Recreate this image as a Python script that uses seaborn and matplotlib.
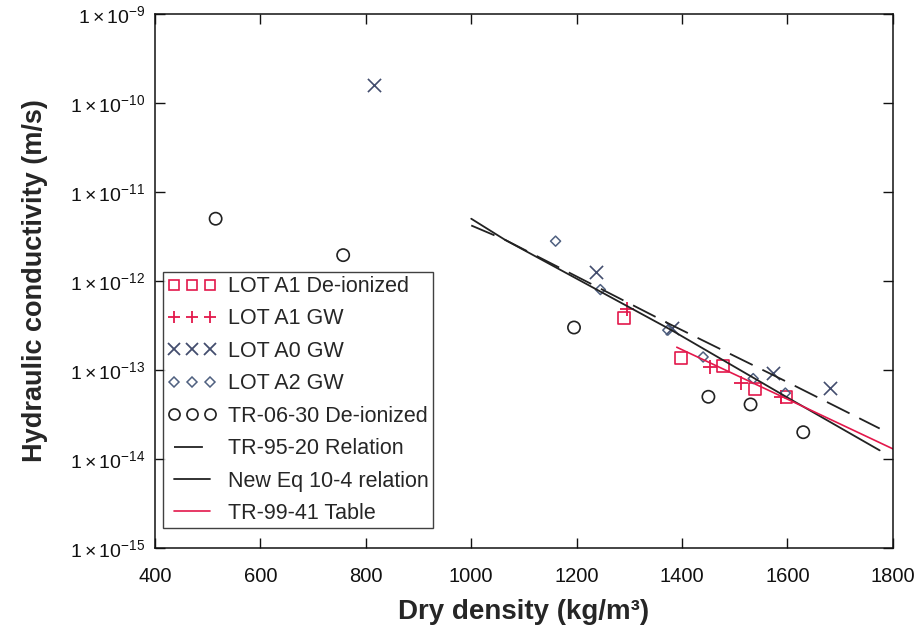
import matplotlib
matplotlib.use("Agg")
import matplotlib.pyplot as plt
from matplotlib.lines import Line2D
import seaborn as sns
import pandas as pd

# ---- data ----
a1_deion_x = [1290, 1398, 1477, 1538, 1598]
a1_deion_y = [3.8e-13, 1.35e-13, 1.1e-13, 6.1e-14, 5.0e-14]
a1_gw_x = [1296, 1453, 1512, 1588]
a1_gw_y = [4.9e-13, 1.08e-13, 7.1e-14, 5.0e-14]
a0_gw_x = [815, 1236, 1380, 1573, 1680]
a0_gw_y = [1.6e-10, 1.25e-12, 3.0e-13, 9.3e-14, 6.2e-14]
a2_gw_x = [1160, 1245, 1373, 1440, 1535, 1596]
a2_gw_y = [2.8e-12, 8.0e-13, 2.8e-13, 1.4e-13, 8.0e-14, 5.5e-14]
tr0630_x = [515, 757, 1195, 1450, 1530, 1630]
tr0630_y = [5.0e-12, 1.95e-12, 3.0e-13, 5.0e-14, 4.1e-14, 2.0e-14]

tr9520_x = [1000, 1064, 1380, 1600, 1775]
tr9520_y = [4.2e-12, 2.9e-12, 3.2e-13, 7.3e-14, 2.2e-14]
neweq_x = [1000, 1064, 1380, 1600, 1775]
neweq_y = [5.0e-12, 2.9e-12, 2.8e-13, 4.9e-14, 1.25e-14]
tr9941_x = [1390, 1600, 1800]
tr9941_y = [1.8e-13, 4.7e-14, 1.3e-14]

xticks = [400, 600, 800, 1000, 1200, 1400, 1600, 1800]
yticks = [1e-15, 1e-14, 1e-13, 1e-12, 1e-11, 1e-10, 1e-9]
yticklabels = [r"$1\times10^{-15}$", r"$1\times10^{-14}$", r"$1\times10^{-13}$",
               r"$1\times10^{-12}$", r"$1\times10^{-11}$", r"$1\times10^{-10}$",
               r"$1\times10^{-9}$"]

# ---- style ----
sns.set_theme(style="ticks")
plt.rcParams["font.family"] = ["Liberation Sans", "DejaVu Sans"]
plt.rcParams["mathtext.fontset"] = "custom"
plt.rcParams["mathtext.rm"] = "Liberation Sans"
plt.rcParams["mathtext.it"] = "Liberation Sans:italic"
plt.rcParams["mathtext.bf"] = "Liberation Sans:bold"

RED = "#e3184b"
BLUEGRAY = "#434d6e"
DIAM = "#4f6080"
BLACK = "#222222"

fig = plt.figure(figsize=(9.2, 6.31), dpi=100)
ax = fig.add_axes([0.1685, 0.1315, 0.802, 0.8465])

def df(x, y):
    return pd.DataFrame({"x": x, "y": y})

sns.scatterplot(data=df(a1_deion_x, a1_deion_y), x="x", y="y", ax=ax, marker="s", s=72,
                facecolor="none", edgecolor=RED, linewidth=1.2, legend=False)
sns.scatterplot(data=df(a1_gw_x, a1_gw_y), x="x", y="y", ax=ax, marker="+", s=95,
                color=RED, linewidth=1.3, legend=False)
sns.scatterplot(data=df(a0_gw_x, a0_gw_y), x="x", y="y", ax=ax, marker="x", s=90,
                color=BLUEGRAY, linewidth=1.2, legend=False)
sns.scatterplot(data=df(a2_gw_x, a2_gw_y), x="x", y="y", ax=ax, marker="D", s=26,
                facecolor="none", edgecolor=DIAM, linewidth=1.1, legend=False)
sns.scatterplot(data=df(tr0630_x, tr0630_y), x="x", y="y", ax=ax, marker="o", s=78,
                facecolor="none", edgecolor=BLACK, linewidth=1.2, legend=False)

DASH = (0, (14, 6))
sns.lineplot(data=df(tr9520_x, tr9520_y), x="x", y="y", ax=ax, color=BLACK, lw=1.3,
             linestyle=DASH, sort=False, estimator=None, legend=False)
sns.lineplot(data=df(neweq_x, neweq_y), x="x", y="y", ax=ax, color=BLACK, lw=1.3,
             sort=False, estimator=None, legend=False)
sns.lineplot(data=df(tr9941_x, tr9941_y), x="x", y="y", ax=ax, color=RED, lw=1.2,
             sort=False, estimator=None, legend=False)

ax.set_yscale("log")
ax.set_xlim(400, 1800)
ax.set_ylim(1e-15, 1e-9)
ax.set_xticks(xticks)
ax.set_xticklabels([str(t) for t in xticks])
ax.set_yticks(yticks)
ax.set_yticklabels(yticklabels)
ax.minorticks_off()
ax.tick_params(axis="both", which="major", direction="in", length=7, width=1,
               top=True, right=True, colors="#111111")
ax.tick_params(axis="x", labelsize=14.5, pad=14)
ax.tick_params(axis="y", labelsize=14, pad=7)
for sp in ax.spines.values():
    sp.set_visible(True)
    sp.set_linewidth(1.1)
    sp.set_color("#111111")

ax.set_xlabel("Dry density (kg/m³)", fontsize=20, fontweight="bold", labelpad=9)
ax.set_ylabel("Hydraulic conductivity (m/s)", fontsize=19.5, fontweight="bold", labelpad=16)

labels = ["LOT A1 De-ionized", "LOT A1 GW", "LOT A0 GW", "LOT A2 GW", "TR-06-30 De-ionized",
          "TR-95-20 Relation", "New Eq 10-4 relation", "TR-99-41 Table"]
handles = [
    Line2D([], [], ls="none", marker="s", ms=7.5, mfc="none", mec=RED, mew=1.2),
    Line2D([], [], ls="none", marker="+", ms=9, mec=RED, mew=1.3),
    Line2D([], [], ls="none", marker="x", ms=8.5, mec=BLUEGRAY, mew=1.3),
    Line2D([], [], ls="none", marker="D", ms=5, mfc="none", mec=DIAM, mew=1.1),
    Line2D([], [], ls="none", marker="o", ms=8, mfc="none", mec=BLACK, mew=1.2),
    Line2D([], [], color=BLACK, lw=1.3, ls=(0, (16, 30))),
    Line2D([], [], color=BLACK, lw=1.3),
    Line2D([], [], color=RED, lw=1.2),
]
leg = ax.legend(handles, labels, loc="lower left", bbox_to_anchor=(0.011, 0.037),
                borderaxespad=0, numpoints=3, fontsize=15.5, frameon=True,
                fancybox=False, edgecolor="#111111", labelspacing=0.53, handlelength=2.3,
                handletextpad=0.5, borderpad=0.2)
leg.get_frame().set_linewidth(1.0)

fig.savefig("out.png", dpi=100)
